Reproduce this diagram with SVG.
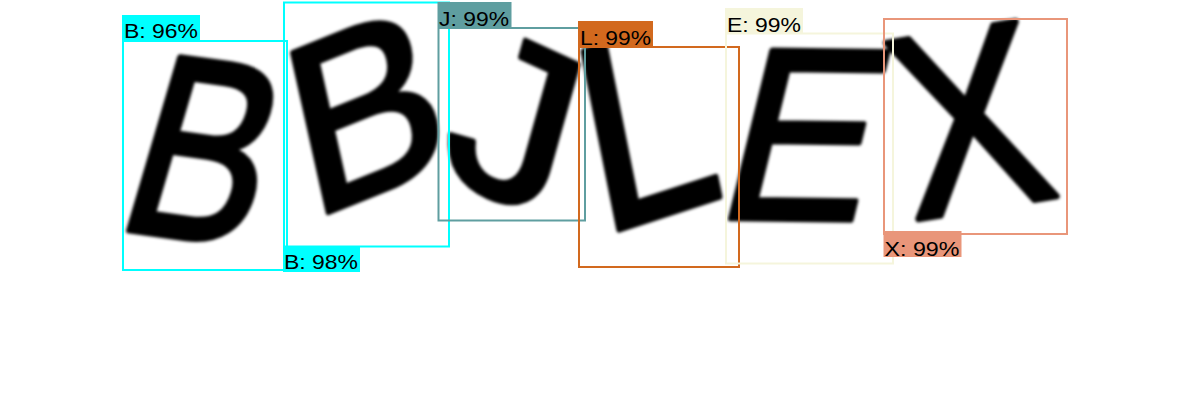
<svg xmlns="http://www.w3.org/2000/svg" width="1200" height="420" viewBox="0 0 1200 420">
<style>
.glyph{font-family:"Liberation Sans",Arial,sans-serif;font-size:100px;fill:#000;stroke:#000;stroke-width:2.4;stroke-linejoin:round}
.box{fill:none;stroke-width:2}
.lbl{font-family:"Liberation Sans",Arial,sans-serif;font-size:21px;fill:#000}
</style>
<defs>
<filter id="soft" x="-10%" y="-10%" width="120%" height="120%"><feGaussianBlur stdDeviation="1.6"/></filter>
</defs>
<rect width="1200" height="420" fill="#fff"/>
<g id="scene" filter="url(#soft)">
<text class="glyph" transform="matrix(2.05 0.284 -0.740 2.514 111.85 227.9)">B</text>
<text class="glyph" transform="matrix(2.18 -0.88 0.517 2.318 310.6 219.6)">B</text>
<text class="glyph" transform="matrix(2.3 1.05 -0.62 2.2 437 171)">J</text>
<text class="glyph" transform="matrix(2.28 -0.74 0.517 2.584 600.4 235.4)">L</text>
<text class="glyph" transform="matrix(2.22 0.03 -0.60 2.44 712.6 218)">E</text>
<text class="glyph" transform="matrix(2.23 -0.37 0.53 2.55 913 220)">X</text>
</g>
<g id="det-b1">
<rect class="box" x="123" y="41" width="164" height="229" stroke="#00FFFF"/>
<rect x="122" y="15" width="78" height="25" fill="#00FFFF"/>
<text class="lbl" x="124" y="38" textLength="74" lengthAdjust="spacingAndGlyphs">B: 96%</text>
</g>
<g id="det-b2">
<rect x="283" y="247" width="77" height="25" fill="#00FFFF"/>
<text class="lbl" x="284" y="269" textLength="74" lengthAdjust="spacingAndGlyphs">B: 98%</text>
<rect class="box" x="284" y="2.5" width="165" height="244" stroke="#00FFFF"/>
</g>
<g id="det-j">
<rect class="box" x="438.5" y="28" width="146.5" height="192.5" stroke="#5F9EA0"/>
<rect x="437.5" y="2" width="74" height="25" fill="#5F9EA0"/>
<text class="lbl" x="439" y="25.5" textLength="70" lengthAdjust="spacingAndGlyphs">J: 99%</text>
</g>
<g id="det-l">
<rect class="box" x="579" y="47" width="160" height="220" stroke="#D2691E"/>
<rect x="578" y="21" width="75" height="25" fill="#D2691E"/>
<text class="lbl" x="580" y="44.5" textLength="71" lengthAdjust="spacingAndGlyphs">L: 99%</text>
</g>
<g id="det-e">
<rect class="box" x="726" y="33.5" width="167" height="230" stroke="#F5F5DC"/>
<rect x="725" y="8" width="78" height="25" fill="#F5F5DC"/>
<text class="lbl" x="727" y="31.5" textLength="74" lengthAdjust="spacingAndGlyphs">E: 99%</text>
</g>
<g id="det-x">
<rect x="883.5" y="231" width="78" height="26" fill="#E9967A"/>
<text class="lbl" x="884.5" y="256" textLength="75" lengthAdjust="spacingAndGlyphs">X: 99%</text>
<rect class="box" x="884" y="19" width="183" height="215" stroke="#E9967A"/>
</g>
</svg>
